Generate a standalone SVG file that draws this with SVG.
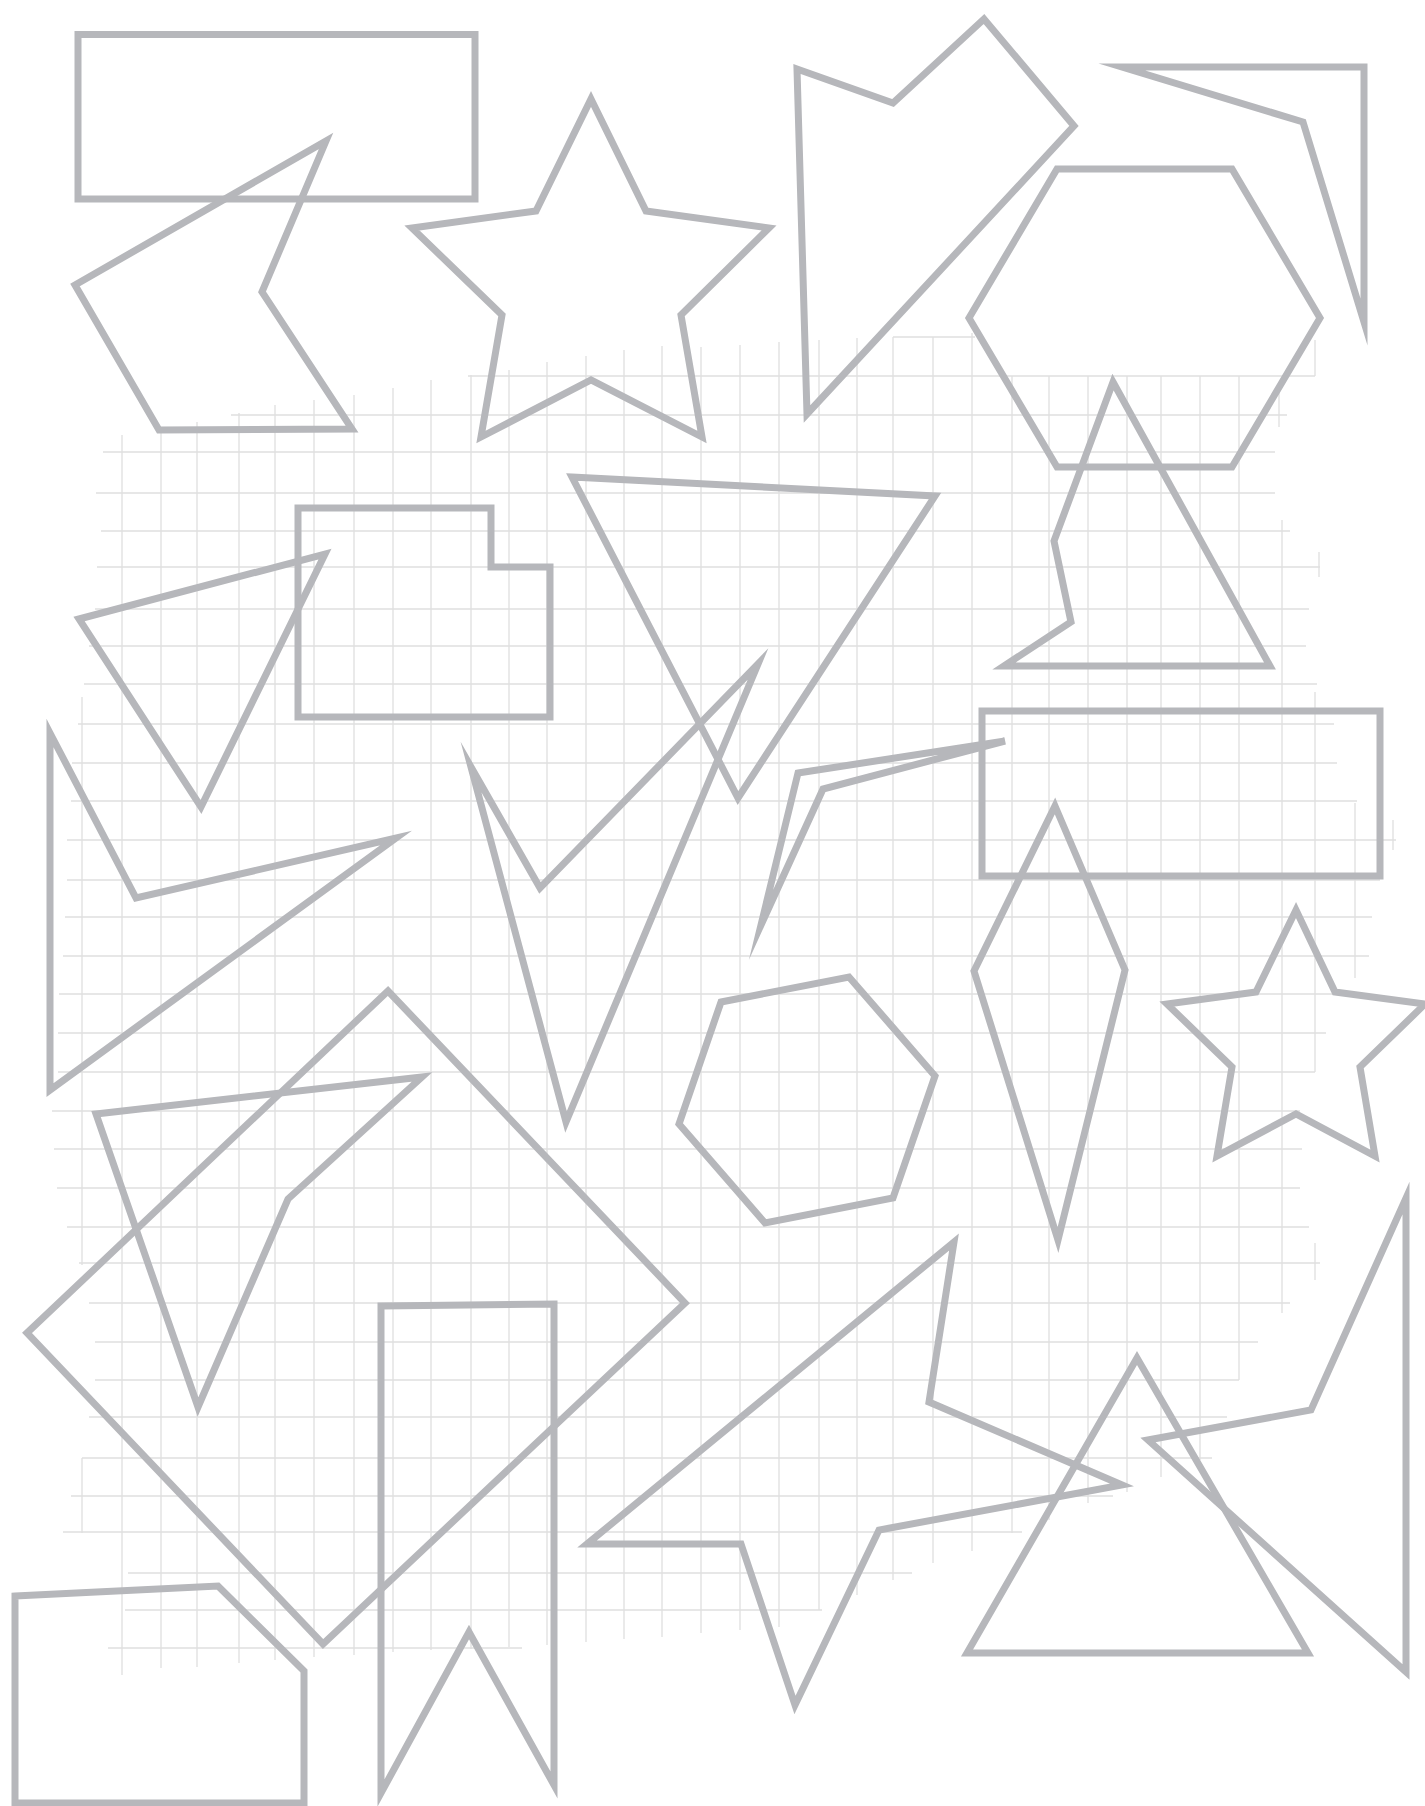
<svg xmlns="http://www.w3.org/2000/svg" width="1425" height="1806" viewBox="0 0 1425 1806">
<style>
.g{fill:none;stroke:#dfdfdf;stroke-width:1.3}
.s{fill:none;stroke:#b6b7bb;stroke-width:7;stroke-linejoin:miter;stroke-miterlimit:12}
</style>
<rect width="1425" height="1806" fill="#ffffff"/>
<g id="grid">
<path class="g" d="M82,697V1265M82,1458V1533M122,435V1675M161,430V1668M197,422V1667M239,413V1663M275,405V1660M314,400V1657M354,395V1655M393,388V1652M431,380V1650M471,375V1649M509,370V1647M547,362V1645M586,356V1642M624,350V1639M662,346V1637M701,347V1633M740,345V1630M779,342V1627M819,340V1610M857,338V1595M893,337V1580M933,337V1563M972,333V1551M1012,376V1533M1049,376V1520M1088,376V1503M1127,376V1492M1161,376V1477M1200,376V1460M1239,376V1380M1279,393V427M1282,520V1313M1315,340V376M1319,552V577M1315,692V1072M1315,1243V1280M1355,803V978M1393,820V850"/>
<path class="g" d="M893,337H975M468,376H1315M231,415H1287M103,452H1275M96,493H1275M101,531H1290M97,567H1320M95,609H1309M89,646H1306M84,684H1317M78,724H1334M72,763H1337M71,801H1357M67,840H1396M67,880H1380M65,917H1372M63,956H1369M59,994H1340M58,1033H1326M58,1072H1315M52,1111H1300M54,1149H1302M57,1188H1300M67,1227H1309M79,1263H1320M89,1303H1290M95,1342H1258M95,1380H1239M89,1417H1227M82,1458H1212M71,1496H1113M63,1532H1022M128,1573H912M125,1610H822M108,1648H522"/>
</g>
<g id="rect-top"><rect class="s" x="78" y="34.5" width="397" height="164.5"/></g>
<g id="arrow-pentagon"><polygon class="s" points="326,141 262,292 352,429 159,430 75,285"/></g>
<g id="star-top"><polygon class="s" points="591,99 646,211 769,228 681,315 702,437 591,380 481,437 502,315 412,228 536,211"/></g>
<g id="flag"><polygon class="s" points="797,69 893,103 984,19 1074,126 807,414"/></g>
<g id="corner"><polygon class="s" points="1122,67 1364,67 1364,322 1303,122"/></g>
<g id="hexagon-top"><polygon class="s" points="1057,169 1232,169 1320,318 1232,467 1057,467 969,318"/></g>
<g id="notch-triangle"><polygon class="s" points="1113,382 1270,666 1004,666 1071,622 1054,541"/></g>
<g id="stepped-rect"><polygon class="s" points="298,508 491,508 491,567 550,567 550,717 298,717"/></g>
<g id="left-triangle"><polygon class="s" points="79,619 325,554 201,807"/></g>
<g id="inverted-triangle"><polygon class="s" points="572,477 935,496 738,798"/></g>
<g id="lightning"><polygon class="s" points="471,767 540,888 758,664 566,1122"/></g>
<g id="wedge"><polygon class="s" points="798,773 1005,741 823,789 761,925"/></g>
<g id="rect-right"><rect class="s" x="982" y="711" width="398" height="165"/></g>
<g id="kite"><polygon class="s" points="1055,806 1125,970 1058,1240 974,971"/></g>
<g id="hexagon-mid"><polygon class="s" points="721,1002 849,977 935,1076 893,1198 765,1223 679,1124"/></g>
<g id="star-small"><polygon class="s" points="1296,910 1335,992 1425,1004 1360,1067 1375,1156 1296,1114 1217,1156 1232,1067 1167,1004 1256,992"/></g>
<g id="zigzag"><polygon class="s" points="50,733 136,898 396,838 50,1090"/></g>
<g id="diamond"><polygon class="s" points="388,991 685,1303 323,1644 27,1333"/></g>
<g id="v-shape"><polygon class="s" points="96,1114 422,1077 288,1199 198,1407"/></g>
<g id="w-rect"><polygon class="s" points="381,1306 554,1304 554,1785 469,1632 381,1793"/></g>
<g id="house"><polygon class="s" points="15,1596 218,1586 304,1671 304,1803 15,1803"/></g>
<g id="bottom-star"><polygon class="s" points="587,1544 954,1242 929,1402 1122,1485 879,1530 795,1705 741,1544"/></g>
<g id="triangle-bottom"><polygon class="s" points="1137,1358 1308,1653 967,1653"/></g>
<g id="right-tall"><polygon class="s" points="1406,1198 1406,1672 1148,1440 1311,1410"/></g>
<g id="connectors"></g>
</svg>
